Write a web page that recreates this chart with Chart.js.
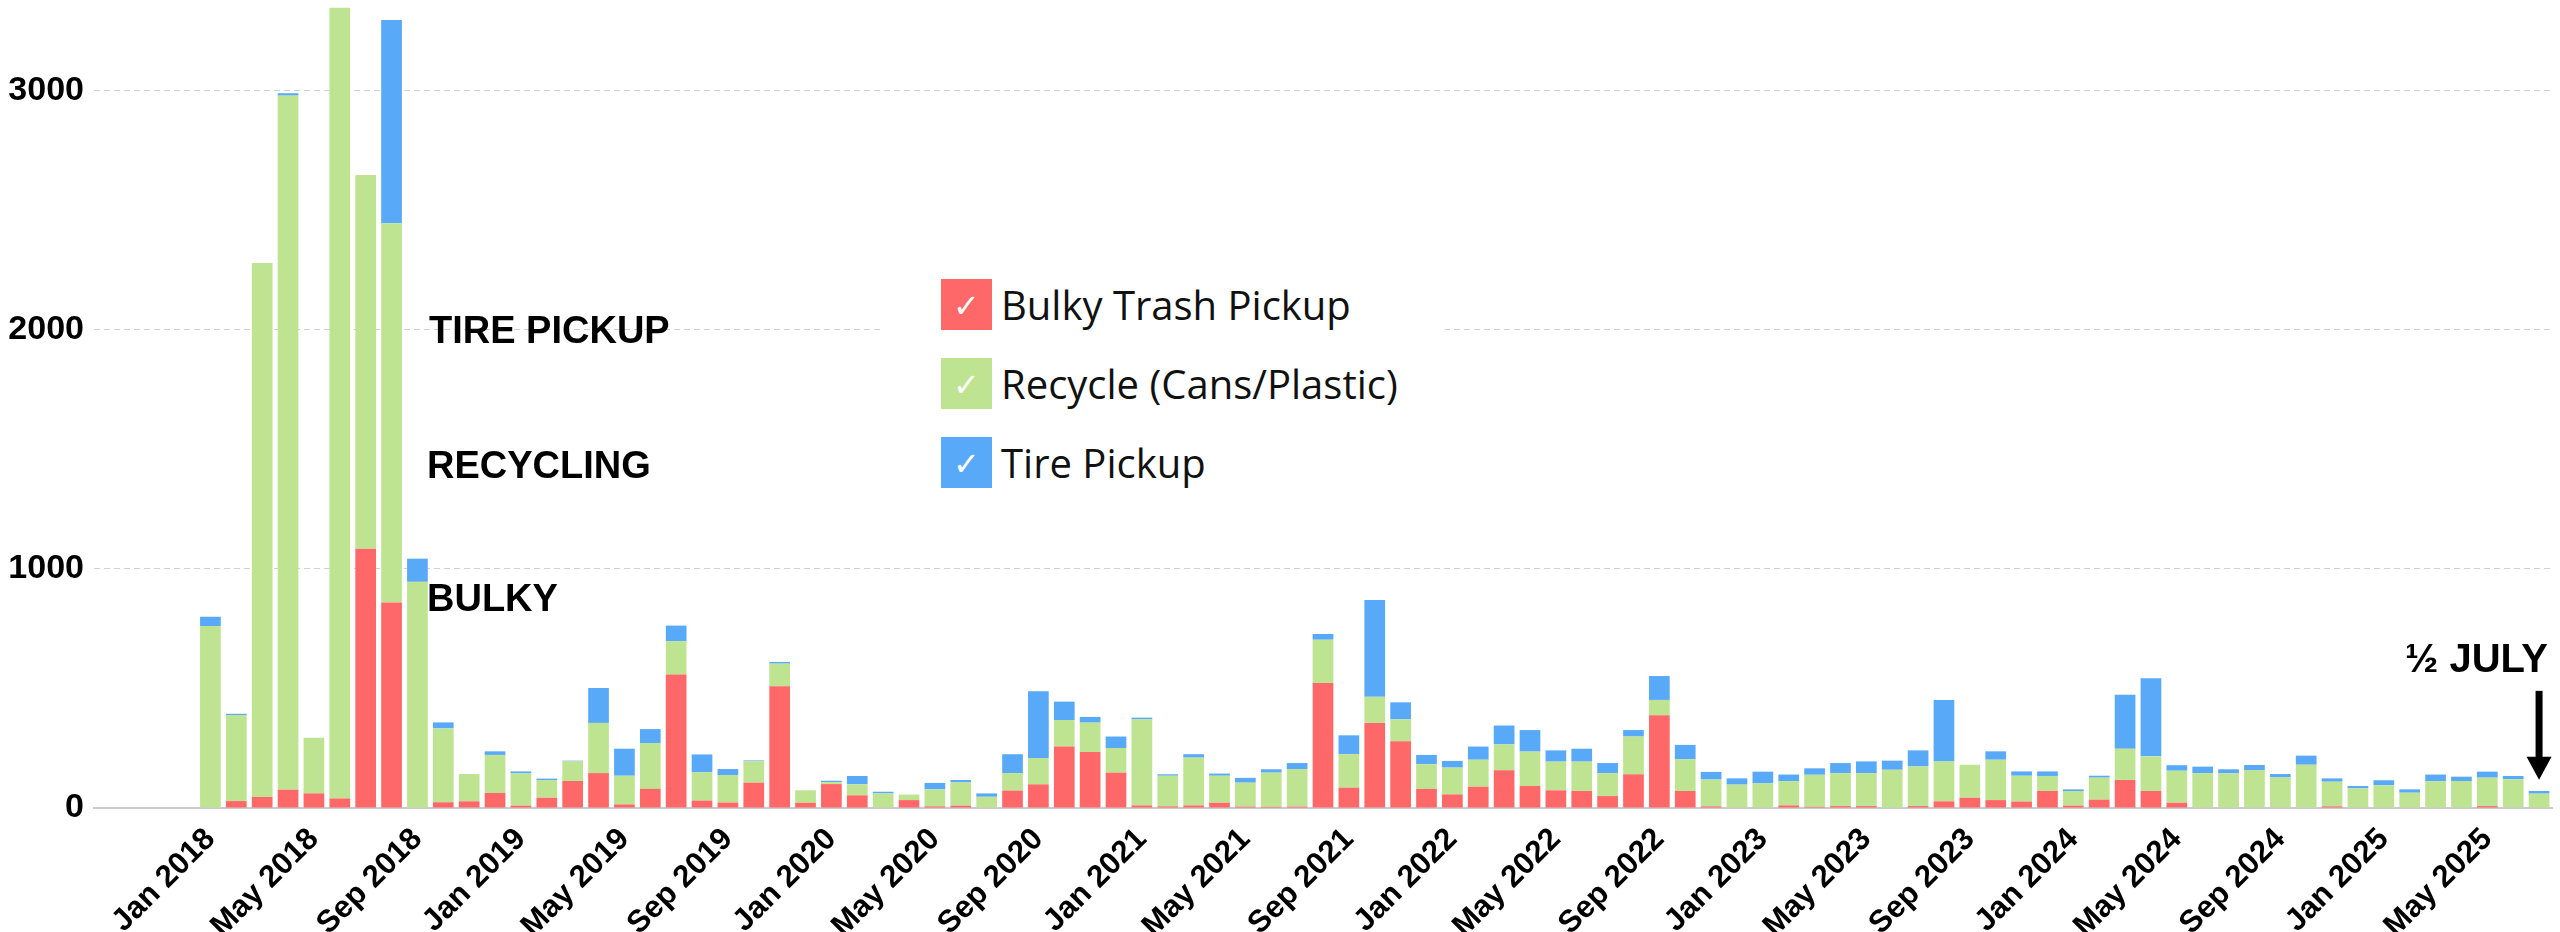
<!DOCTYPE html>
<html>
<head>
<meta charset="utf-8">
<script src="https://cdn.jsdelivr.net/npm/chart.js@4.4.1/dist/chart.umd.min.js"></script>
<style>
html,body{margin:0;padding:0;background:#fff;}
#wrap{position:relative;width:2560px;height:932px;overflow:hidden;background:#fff;}
#c{display:block;position:absolute;left:0;top:0;}
.ann{position:absolute;font-family:"Liberation Sans",Arial,sans-serif;font-weight:bold;color:#000;white-space:nowrap;line-height:1;}
#legend{position:absolute;left:882px;top:250px;width:563px;height:262px;background:#fff;box-sizing:border-box;padding:29px 0 0 59px;font-family:"Open Sans",sans-serif;font-size:40px;color:#111;}
.li{display:flex;height:51px;margin-bottom:28px;}
.box{width:51px;height:51px;flex:0 0 51px;display:flex;align-items:center;justify-content:center;color:#fff;font-family:"DejaVu Sans",sans-serif;font-size:32px;line-height:51px;}
.box span{position:relative;top:2px;}
.txt{line-height:51px;margin-left:9px;white-space:nowrap;}
</style>
</head>
<body>
<div id="wrap">
<canvas id="c" width="2560" height="932"></canvas>
<div id="legend"></div>
<div class="ann" style="left:429px;top:311px;font-size:38px;">TIRE PICKUP</div>
<div class="ann" style="left:427px;top:446px;font-size:38px;">RECYCLING</div>
<div class="ann" style="left:427px;top:579px;font-size:38px;">BULKY</div>
<div class="ann" style="left:2405px;top:638px;font-size:40px;">½ JULY</div>
</div>
<script>
const categories = [
 'Sep 2017','Oct 2017','Nov 2017','Dec 2017',
 'Jan 2018','Feb 2018','Mar 2018','Apr 2018','May 2018','Jun 2018','Jul 2018','Aug 2018','Sep 2018','Oct 2018','Nov 2018','Dec 2018',
 'Jan 2019','Feb 2019','Mar 2019','Apr 2019','May 2019','Jun 2019','Jul 2019','Aug 2019','Sep 2019','Oct 2019','Nov 2019','Dec 2019',
 'Jan 2020','Feb 2020','Mar 2020','Apr 2020','May 2020','Jun 2020','Jul 2020','Aug 2020','Sep 2020','Oct 2020','Nov 2020','Dec 2020',
 'Jan 2021','Feb 2021','Mar 2021','Apr 2021','May 2021','Jun 2021','Jul 2021','Aug 2021','Sep 2021','Oct 2021','Nov 2021','Dec 2021',
 'Jan 2022','Feb 2022','Mar 2022','Apr 2022','May 2022','Jun 2022','Jul 2022','Aug 2022','Sep 2022','Oct 2022','Nov 2022','Dec 2022',
 'Jan 2023','Feb 2023','Mar 2023','Apr 2023','May 2023','Jun 2023','Jul 2023','Aug 2023','Sep 2023','Oct 2023','Nov 2023','Dec 2023',
 'Jan 2024','Feb 2024','Mar 2024','Apr 2024','May 2024','Jun 2024','Jul 2024','Aug 2024','Sep 2024','Oct 2024','Nov 2024','Dec 2024',
 'Jan 2025','Feb 2025','Mar 2025','Apr 2025','May 2025','Jun 2025','Jul 2025'
];

const bulkyTrash = [
 null,null,null,null,
 0,29,46,77,61,40,1084,860,0,24,28,63,
 10,43,113,146,15,80,558,31,23,106,509,22,
 100,53,0,33,7,10,0,73,99,257,234,148,
 11,7,11,22,6,5,6,523,85,356,279,80,
 57,89,158,92,74,71,50,141,388,71,7,0,
 0,11,5,8,8,0,8,28,43,33,27,71,
 10,35,117,71,22,0,0,0,0,0,7,0,
 0,0,0,0,8,0,0
];

const recycle = [
 null,null,null,null,
 761,360,2234,2903,233,3308,1564,1586,946,309,114,159,
 135,74,82,210,120,192,140,118,115,90,95,52,
 8,46,61,23,71,97,47,73,110,111,123,103,
 360,128,200,113,100,143,157,181,140,109,92,103,
 112,113,108,144,120,123,96,158,64,133,112,98,
 103,101,134,138,138,160,166,167,138,169,108,63,
 61,92,131,145,134,146,145,159,128,181,103,82,
 95,64,112,113,119,120,60
];

const tirePickup = [
 null,null,null,null,
 39,5,0,10,0,0,0,850,97,25,0,15,
 8,6,3,146,113,58,65,75,25,3,7,0,
 6,35,7,0,27,10,14,79,279,77,24,48,
 7,6,14,9,20,14,25,24,79,405,71,39,
 28,55,79,90,47,54,42,27,100,60,32,26,
 49,28,27,42,49,38,67,257,0,35,18,19,
 7,8,226,327,23,27,17,21,14,38,14,10,
 21,14,28,18,25,14,11
];

const seriesNames = ['Bulky Trash Pickup','Recycle (Cans/Plastic)','Tire Pickup'];
const seriesColors = ['#ff6868','#bee391','#59a9f9'];
const yTickValues = [0,1000,2000,3000];

Chart.defaults.font.family = '"Liberation Sans", Arial, sans-serif';

const arrowPlugin = {
  id: 'halfJulyArrow',
  afterDatasetsDraw(chart) {
    const {ctx, scales: {x, y}} = chart;
    const cx = x.getPixelForValue(categories.length - 1);
    const yTop = y.getPixelForValue(490);
    const yBase = y.getPixelForValue(214);
    const yTip = y.getPixelForValue(118);
    ctx.save();
    ctx.fillStyle = '#000';
    ctx.fillRect(cx - 3.5, yTop, 7, yBase - yTop + 1);
    ctx.beginPath();
    ctx.moveTo(cx - 12.5, yBase);
    ctx.lineTo(cx + 12.5, yBase);
    ctx.lineTo(cx, yTip);
    ctx.closePath();
    ctx.fill();
    ctx.restore();
  }
};

const chart = new Chart(document.getElementById('c'), {
  type: 'bar',
  data: {
    labels: categories,
    datasets: [
      {label: seriesNames[0], data: bulkyTrash, backgroundColor: seriesColors[0]},
      {label: seriesNames[1], data: recycle, backgroundColor: seriesColors[1]},
      {label: seriesNames[2], data: tirePickup, backgroundColor: seriesColors[2]}
    ]
  },
  options: {
    responsive: false,
    animation: false,
    devicePixelRatio: 1,
    barPercentage: 0.8,
    categoryPercentage: 1.0,
    layout: {autoPadding: false, padding: {left: 0, right: 8, top: 0, bottom: 0}},
    plugins: {legend: {display: false}, tooltip: {enabled: false}},
    scales: {
      x: {
        stacked: true,
        grid: {display: false},
        border: {display: true, color: '#cccccc', width: 2},
        ticks: {
          autoSkip: false,
          minRotation: 45,
          maxRotation: 45,
          color: '#000',
          padding: 5,
          font: {size: 31, weight: 'bold'},
          callback: function(v, i) {
            return (i >= 4 && (i - 4) % 4 === 0) ? this.getLabelForValue(v) : null;
          }
        },
        afterFit: s => { s.height = 124; s.paddingLeft = 0; s.paddingRight = 0; }
      },
      y: {
        stacked: true,
        min: 0,
        max: 3380,
        grid: {color: '#cfcfcf', lineWidth: 1, drawTicks: false},
        border: {display: false, dash: [6, 4]},
        ticks: {
          stepSize: 1000,
          color: '#000',
          padding: 10,
          font: {size: 34, weight: 'bold'},
          callback: v => String(v)
        },
        afterBuildTicks: s => { s.ticks = yTickValues.map(v => ({value: v})); },
        afterFit: s => { s.width = 94; s.paddingTop = 0; s.paddingBottom = 0; }
      }
    }
  },
  plugins: [arrowPlugin]
});

// HTML legend built from the chart's datasets
const legend = document.getElementById('legend');
chart.data.datasets.forEach(ds => {
  const row = document.createElement('div');
  row.className = 'li';
  const box = document.createElement('div');
  box.className = 'box';
  box.style.background = ds.backgroundColor;
  const chk = document.createElement('span');
  chk.textContent = '✓';
  box.appendChild(chk);
  const t = document.createElement('div');
  t.className = 'txt';
  t.textContent = ds.label;
  row.appendChild(box);
  row.appendChild(t);
  legend.appendChild(row);
});
</script>
</body>
</html>
